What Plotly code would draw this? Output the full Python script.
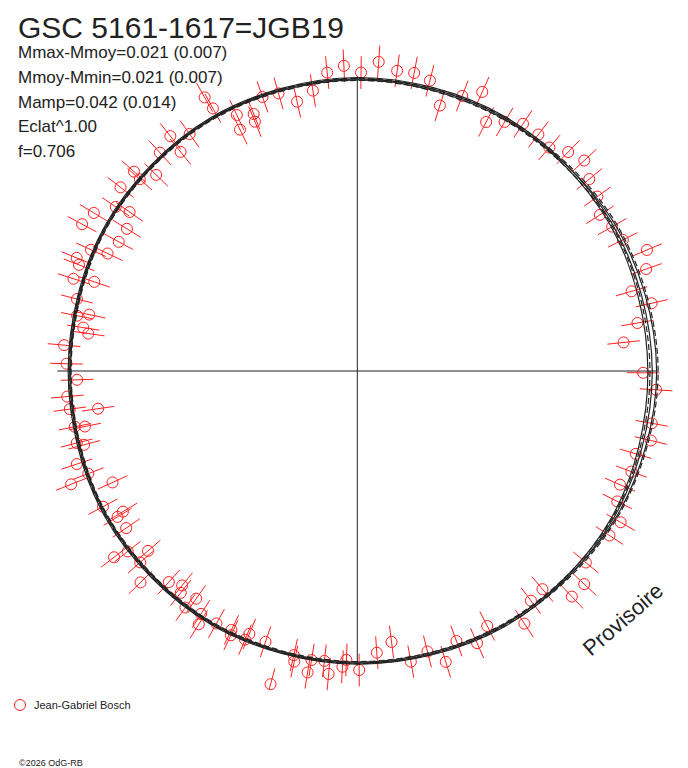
import plotly.graph_objects as go

# phase (0..1, clockwise from top) and relative flux of each observation
phase = [0.002, 0.011, 0.021, 0.030, 0.039, 0.048, 0.058, 0.067, 0.076, 0.085,
         0.094, 0.104, 0.113, 0.122, 0.131, 0.140, 0.150, 0.159, 0.168, 0.177,
         0.187, 0.196, 0.205, 0.214, 0.223, 0.233, 0.251, 0.260, 0.278, 0.287,
         0.296, 0.306, 0.315, 0.324, 0.333, 0.342, 0.361, 0.370, 0.379, 0.388,
         0.397, 0.407, 0.425, 0.434, 0.444, 0.453, 0.461, 0.471, 0.480, 0.489,
         0.499, 0.506, 0.508, 0.515, 0.518, 0.525, 0.526, 0.534, 0.535, 0.543,
         0.552, 0.562, 0.563, 0.572, 0.571, 0.581, 0.591, 0.589, 0.598, 0.600,
         0.607, 0.609, 0.616, 0.627, 0.635, 0.637, 0.644, 0.646, 0.655, 0.663,
         0.664, 0.672, 0.682, 0.690, 0.692, 0.699, 0.708, 0.710, 0.718, 0.719,
         0.727, 0.729, 0.736, 0.745, 0.754, 0.764, 0.772, 0.775, 0.783, 0.781,
         0.790, 0.802, 0.800, 0.808, 0.811, 0.818, 0.820, 0.829, 0.838, 0.828,
         0.836, 0.847, 0.845, 0.855, 0.865, 0.866, 0.873, 0.883, 0.892, 0.893,
         0.902, 0.920, 0.919, 0.930, 0.939, 0.938, 0.928, 0.947, 0.956, 0.965,
         0.975, 0.984, 0.993]
flux = [1.022, 1.061, 1.037, 1.039, 1.025, 0.952, 1.008, 1.047, 0.960, 0.991,
        1.019, 1.020, 1.009, 1.041, 1.060, 1.031, 1.016, 0.988, 1.003, 1.014,
        1.075, 1.049, 0.978, 1.034, 0.973, 0.917, 0.979, 1.025, 1.024, 1.033,
        0.995, 1.000, 0.980, 0.996, 1.040, 1.031, 1.021, 1.066, 1.066, 0.980,
        0.986, 1.037, 0.980, 1.018, 0.985, 1.041, 0.990, 1.012, 0.935, 0.967,
        1.024, 0.990, 1.014, 1.042, 0.999, 1.002, 1.046, 1.018, 0.997, 1.113,
        0.979, 0.973, 0.997, 0.986, 1.003, 0.990, 0.989, 1.023, 0.955, 1.001,
        0.971, 0.948, 0.969, 1.037, 0.991, 0.945, 1.000, 1.049, 0.957, 0.961,
        0.936, 0.987, 0.921, 1.054, 0.986, 1.012, 0.969, 0.992, 0.952, 0.986,
        0.897, 0.993, 0.997, 0.960, 0.996, 1.008, 0.930, 0.950, 0.938, 0.978,
        0.991, 0.951, 1.022, 1.020, 1.036, 1.002, 0.945, 0.929, 0.927, 1.068,
        1.052, 0.951, 1.000, 1.026, 0.993, 1.025, 0.962, 1.008, 0.964, 1.028,
        0.994, 1.026, 1.073, 0.969, 0.949, 0.923, 0.919, 0.993, 0.988, 0.945,
        0.972, 1.027, 1.046]
flux_err = 0.056

# model light curves, flux at every 30 deg of phase
curve_phase = [0, 30, 60, 90, 120, 150, 180, 210, 240, 270, 300, 330, 360]
curves = [
    ([1.000, 1.002, 1.000, 0.995, 1.005, 1.005, 1.000, 0.998, 0.993, 0.985, 0.993, 0.998, 1.000], 'solid'),
    ([1.005, 1.007, 1.008, 1.010, 1.012, 1.010, 1.004, 1.002, 0.998, 0.990, 0.997, 1.002, 1.005], 'solid'),
    ([0.997, 0.998, 1.015, 1.025, 1.018, 1.002, 0.997, 0.995, 0.990, 0.982, 0.990, 0.995, 0.997], 'solid'),
    ([1.002, 1.004, 1.020, 1.030, 1.022, 1.008, 1.002, 1.000, 0.995, 0.988, 0.995, 1.000, 1.002], '6px,3px'),
    ([0.995, 0.996, 1.004, 1.002, 1.008, 1.000, 0.995, 0.993, 0.988, 0.980, 0.988, 0.993, 0.995], '6px,3px'),
]

stats = ["Mmax-Mmoy=0.021 (0.007)", "Mmoy-Mmin=0.021 (0.007)",
         "Mamp=0.042 (0.014)", "Eclat^1.00", "f=0.706"]

RED = '#ff2020'
INK = '#222222'
FONT = 'Liberation Sans, Arial, sans-serif'

# the page body has an 8px margin, so the figure is 8px smaller on each side
W, H, OFF = 680, 760, 8


def px(x):
    return (x - OFF) / W


def py(y):
    return 1 - (y - OFF) / H


fig = go.Figure()

# axis cross
fig.add_trace(go.Scatterpolar(r=[1.027, 0, 1.027, None, 1.008, 0, 1.008],
                              theta=[90, 0, 270, None, 0, 0, 180],
                              mode='lines', line=dict(color=INK, width=1),
                              hoverinfo='skip', showlegend=False))

# radial error bars
eb_r, eb_t = [], []
for p, f in zip(phase, flux):
    eb_r += [f - flux_err, f + flux_err, None]
    eb_t += [p * 360, p * 360, None]
fig.add_trace(go.Scatterpolar(r=eb_r, theta=eb_t, mode='lines', cliponaxis=False,
                              line=dict(color=RED, width=1),
                              hoverinfo='skip', showlegend=False))

fig.add_trace(go.Scatterpolar(r=flux, theta=[p * 360 for p in phase], mode='markers',
                              cliponaxis=False, name='Jean-Gabriel Bosch',
                              marker=dict(symbol='circle-open', size=11, color=RED,
                                          line=dict(width=1, color=RED)),
                              showlegend=False))

for vals, dash in curves:
    fig.add_trace(go.Scatterpolar(r=vals, theta=curve_phase, mode='lines',
                                  line=dict(color=INK, width=1.2, dash=dash, shape='spline'),
                                  hoverinfo='skip', showlegend=False))

# polar centre at (357.3, 371) page px, outer edge 330 px
cx, cy, rad = 357.3, 371, 330
fig.update_layout(
    width=W, height=H, autosize=False,
    margin=dict(l=0, r=0, t=0, b=0),
    paper_bgcolor='white', plot_bgcolor='white',
    template='none',
    polar=dict(
        domain=dict(x=[px(cx - rad), px(cx + rad)], y=[py(cy + rad), py(cy - rad)]),
        bgcolor='white',
        radialaxis=dict(range=[0, 1.13], visible=False, showgrid=False),
        angularaxis=dict(rotation=90, direction='clockwise', visible=False,
                         showgrid=False, showline=False),
    ),
)

annotations = [dict(text="GSC 5161-1617=JGB19", x=px(16), y=py(9), yanchor='top',
                    font=dict(size=30, color=INK, family=FONT))]
for i, s in enumerate(stats):
    annotations.append(dict(text=s, x=px(16), y=py(52.5 + 24.8 * i),
                            font=dict(size=17, color=INK, family=FONT)))
annotations.append(dict(text="Jean-Gabriel Bosch", x=px(32), y=py(705),
                        font=dict(size=11, color=INK, family=FONT)))
annotations.append(dict(text="\u00a92026 OdG-RB", x=px(17), y=py(763),
                        font=dict(size=9, color=INK, family=FONT)))
for a in annotations:
    a.setdefault('yanchor', 'middle')
    a.update(xref='paper', yref='paper', xanchor='left', showarrow=False)
annotations.append(dict(text="Provisoire", x=px(622.7), y=py(619.3),
                        xref='paper', yref='paper', xanchor='center', yanchor='middle',
                        showarrow=False, textangle=-41,
                        font=dict(size=22, color=INK, family=FONT)))
fig.update_layout(annotations=annotations)

# legend symbol
fig.add_shape(type='circle', xref='paper', yref='paper',
              x0=px(14.5), x1=px(25.5), y0=py(710.5), y1=py(699.5),
              line=dict(color=RED, width=1))

fig.write_html("out.html")
